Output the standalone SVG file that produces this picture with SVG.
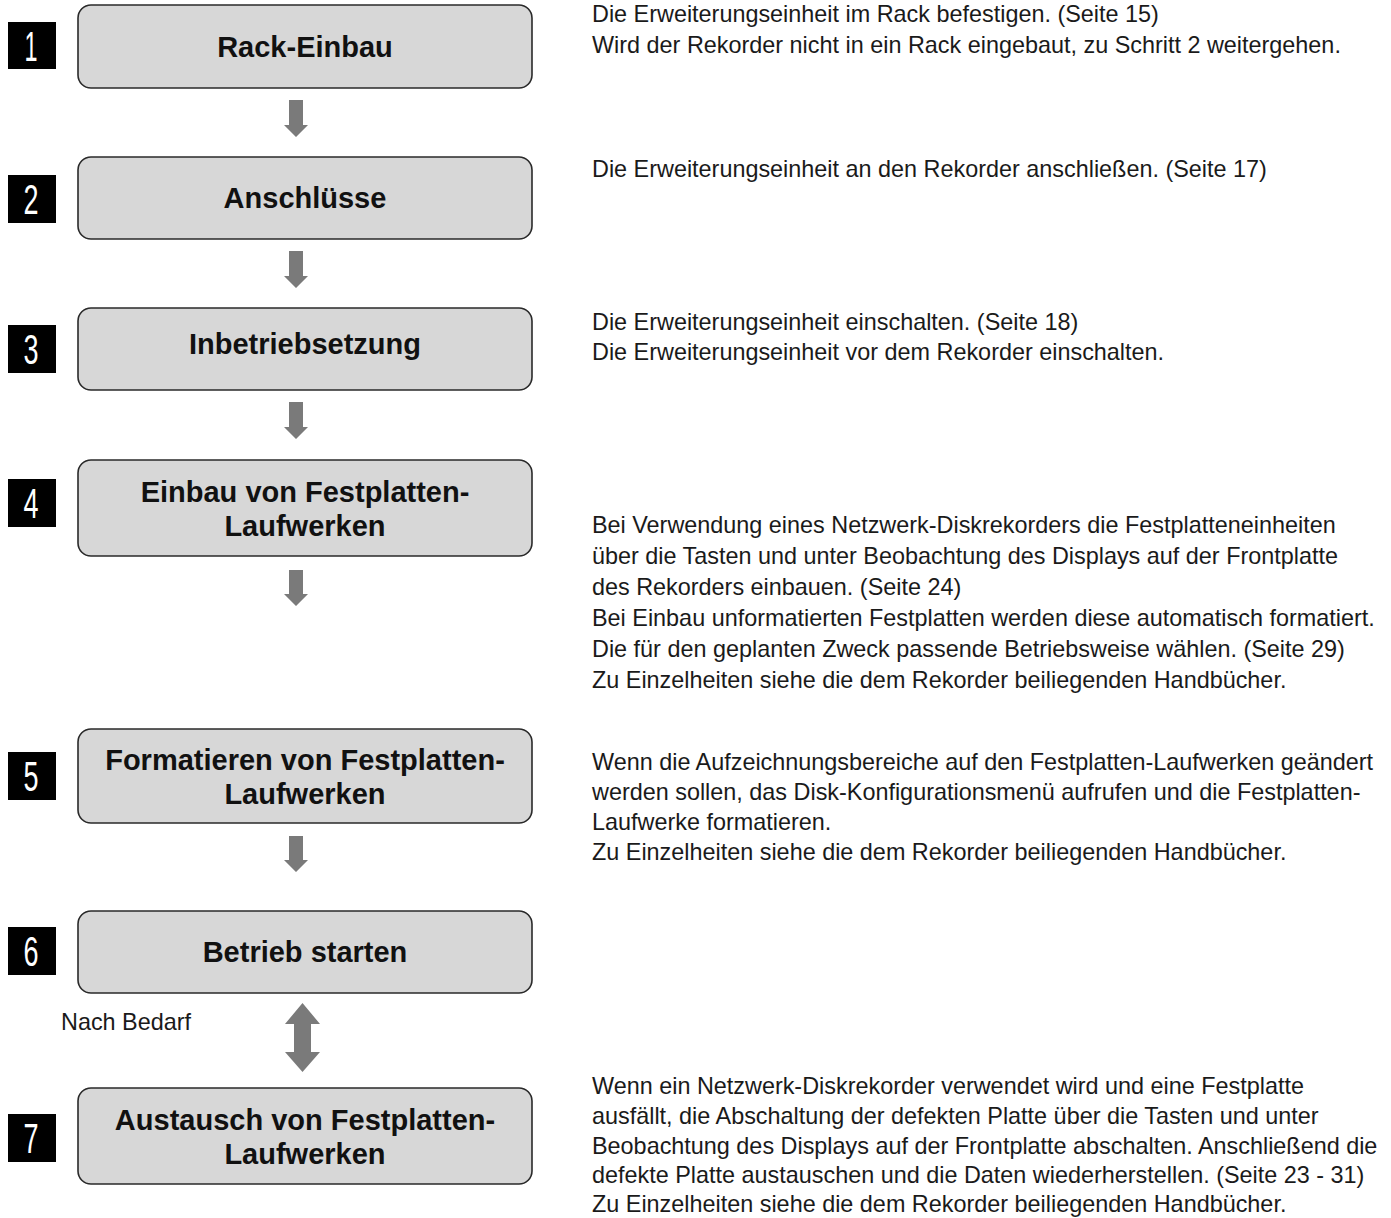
<svg xmlns="http://www.w3.org/2000/svg" width="1391" height="1218" viewBox="0 0 1391 1218">
<style>
.box{fill:#d7d7d7;stroke:#2a2a2a;stroke-width:1.6}
.bt{font-family:"Liberation Sans",Arial,sans-serif;font-weight:bold;font-size:29px;fill:#111;text-anchor:middle}
.badge{fill:#000}
.num{font-family:"Liberation Sans",Arial,sans-serif;font-size:42px;fill:#fff;text-anchor:middle}
.desc{font-family:"Liberation Sans",Arial,sans-serif;font-size:23.4px;fill:#1a1a1a}
.arr{fill:#7a7a7a}
</style>
<rect width="1391" height="1218" fill="#fff"/>
<g id="connectors">
<path class="arr" d="M289,100 H303 V125 H308 L296,137 L284,125 H289 Z"/>
<path class="arr" d="M289,251 H303 V276 H308 L296,288 L284,276 H289 Z"/>
<path class="arr" d="M289,402 H303 V427 H308 L296,439 L284,427 H289 Z"/>
<path class="arr" d="M289,570 H303 V594 H308 L296,606 L284,594 H289 Z"/>
<path class="arr" d="M289,836 H303 V860 H308 L296,872 L284,860 H289 Z"/>
<path class="arr" d="M302.5,1003 L320,1024 H311 V1052 H320 L302.5,1072 L285,1052 H294 V1024 H285 Z"/>
</g>
<g id="step1">
<rect class="badge" x="8" y="22" width="48" height="47"/>
<text class="num" x="31" y="61" textLength="13" lengthAdjust="spacingAndGlyphs">1</text>
<rect class="box" x="78" y="5" width="454" height="83" rx="13"/>
<text class="bt" x="305" y="57">Rack-Einbau</text>
<text class="desc" x="592" y="22">Die Erweiterungseinheit im Rack befestigen. (Seite 15)</text>
<text class="desc" x="592" y="53">Wird der Rekorder nicht in ein Rack eingebaut, zu Schritt 2 weitergehen.</text>
</g>
<g id="step2">
<rect class="badge" x="8" y="175" width="48" height="48"/>
<text class="num" x="31" y="214" textLength="15" lengthAdjust="spacingAndGlyphs">2</text>
<rect class="box" x="78" y="157" width="454" height="82" rx="13"/>
<text class="bt" x="305" y="208">Anschlüsse</text>
<text class="desc" x="592" y="177">Die Erweiterungseinheit an den Rekorder anschließen. (Seite 17)</text>
</g>
<g id="step3">
<rect class="badge" x="8" y="325" width="48" height="48"/>
<text class="num" x="31" y="364" textLength="15" lengthAdjust="spacingAndGlyphs">3</text>
<rect class="box" x="78" y="308" width="454" height="82" rx="13"/>
<text class="bt" x="305" y="354">Inbetriebsetzung</text>
<text class="desc" x="592" y="330">Die Erweiterungseinheit einschalten. (Seite 18)</text>
<text class="desc" x="592" y="360">Die Erweiterungseinheit vor dem Rekorder einschalten.</text>
</g>
<g id="step4">
<rect class="badge" x="8" y="479" width="48" height="48"/>
<text class="num" x="31" y="518" textLength="15" lengthAdjust="spacingAndGlyphs">4</text>
<rect class="box" x="78" y="460" width="454" height="96" rx="13"/>
<text class="bt" x="305" y="502">Einbau von Festplatten-</text>
<text class="bt" x="305" y="536">Laufwerken</text>
<text class="desc" x="592" y="533">Bei Verwendung eines Netzwerk-Diskrekorders die Festplatteneinheiten</text>
<text class="desc" x="592" y="564">über die Tasten und unter Beobachtung des Displays auf der Frontplatte</text>
<text class="desc" x="592" y="595">des Rekorders einbauen. (Seite 24)</text>
<text class="desc" x="592" y="626">Bei Einbau unformatierten Festplatten werden diese automatisch formatiert.</text>
<text class="desc" x="592" y="657">Die für den geplanten Zweck passende Betriebsweise wählen. (Seite 29)</text>
<text class="desc" x="592" y="688">Zu Einzelheiten siehe die dem Rekorder beiliegenden Handbücher.</text>
</g>
<g id="step5">
<rect class="badge" x="8" y="752" width="48" height="48"/>
<text class="num" x="31" y="791" textLength="15" lengthAdjust="spacingAndGlyphs">5</text>
<rect class="box" x="78" y="729" width="454" height="94" rx="13"/>
<text class="bt" x="305" y="770">Formatieren von Festplatten-</text>
<text class="bt" x="305" y="804">Laufwerken</text>
<text class="desc" x="592" y="770">Wenn die Aufzeichnungsbereiche auf den Festplatten-Laufwerken geändert</text>
<text class="desc" x="592" y="800">werden sollen, das Disk-Konfigurationsmenü aufrufen und die Festplatten-</text>
<text class="desc" x="592" y="830">Laufwerke formatieren.</text>
<text class="desc" x="592" y="860">Zu Einzelheiten siehe die dem Rekorder beiliegenden Handbücher.</text>
</g>
<g id="step6">
<rect class="badge" x="8" y="927" width="48" height="48"/>
<text class="num" x="31" y="966" textLength="15" lengthAdjust="spacingAndGlyphs">6</text>
<rect class="box" x="78" y="911" width="454" height="82" rx="13"/>
<text class="bt" x="305" y="962">Betrieb starten</text>
</g>
<g id="label">
<text class="desc" x="61" y="1030">Nach Bedarf</text>
</g>
<g id="step7">
<rect class="badge" x="8" y="1114" width="48" height="48"/>
<text class="num" x="31" y="1153" textLength="15" lengthAdjust="spacingAndGlyphs">7</text>
<rect class="box" x="78" y="1088" width="454" height="96" rx="13"/>
<text class="bt" x="305" y="1130">Austausch von Festplatten-</text>
<text class="bt" x="305" y="1164">Laufwerken</text>
<text class="desc" x="592" y="1094">Wenn ein Netzwerk-Diskrekorder verwendet wird und eine Festplatte</text>
<text class="desc" x="592" y="1124">ausfällt, die Abschaltung der defekten Platte über die Tasten und unter</text>
<text class="desc" x="592" y="1154">Beobachtung des Displays auf der Frontplatte abschalten. Anschließend die</text>
<text class="desc" x="592" y="1183">defekte Platte austauschen und die Daten wiederherstellen. (Seite 23 - 31)</text>
<text class="desc" x="592" y="1212">Zu Einzelheiten siehe die dem Rekorder beiliegenden Handbücher.</text>
</g>
</svg>
